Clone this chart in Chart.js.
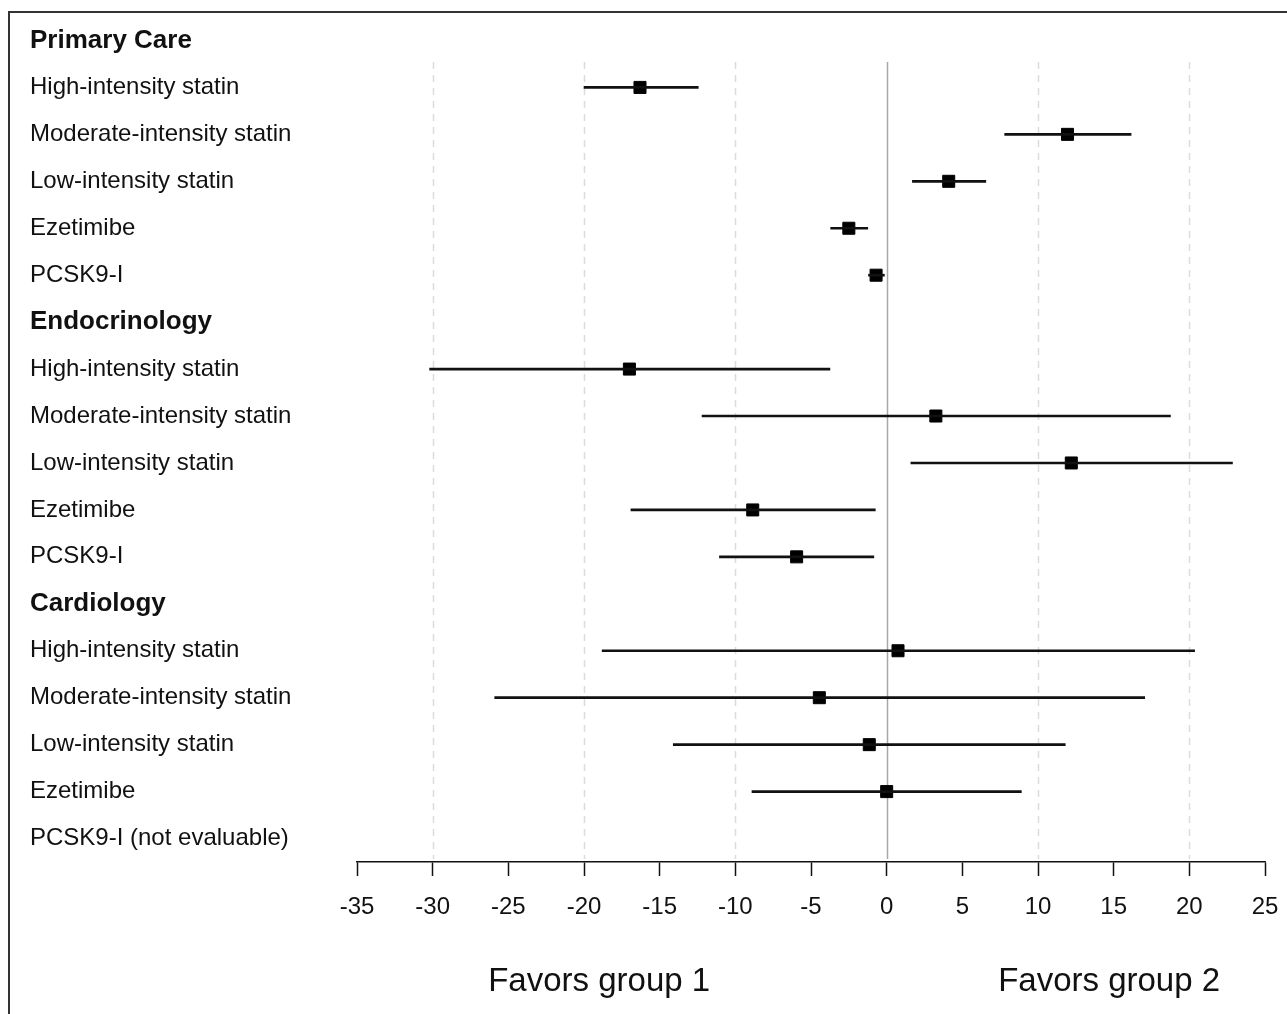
<!DOCTYPE html>
<html>
<head>
<meta charset="utf-8">
<script src="https://cdn.jsdelivr.net/npm/chart.js@4.4.1/dist/chart.umd.min.js"></script>
<style>
    html, body { margin: 0; padding: 0; background: #fff; overflow: hidden; }
    #wrap { position: absolute; left: 0; top: 0; width: 1287px; height: 1014px; }
    #frame { position: absolute; left: 8px; top: 11px; width: 1400px; height: 1100px;
             border: 2px solid #333; pointer-events: none; }
</style>
</head>
<body>
<div id="wrap"><canvas id="forestChart"></canvas></div>
<div id="frame"></div>
<script>
// Nhóm chuyên khoa và các loại thuốc
const groups = ['Primary Care', 'Endocrinology', 'Cardiology'];
const treatments = ['High-intensity statin', 'Moderate-intensity statin', 'Low-intensity statin', 'Ezetimibe', 'PCSK9-I'];

// Ước lượng điểm và khoảng tin cậy
const primaryEst = [-16.3, 11.95, 4.1, -2.5, -0.7];
const primaryLo  = [-20.0, 7.8, 1.7, -3.7, -1.2];
const primaryHi  = [-12.45, 16.15, 6.55, -1.25, -0.15];

const endoEst = [-17.0, 3.25, 12.2, -8.85, -5.95];
const endoLo  = [-30.2, -12.2, 1.6, -16.9, -11.05];
const endoHi  = [-3.75, 18.75, 22.85, -0.75, -0.85];

const cardioEst = [0.75, -4.45, -1.15, 0.0, null];
const cardioLo  = [-18.8, -25.9, -14.1, -8.9, null];
const cardioHi  = [20.35, 17.05, 11.8, 8.9, null];

// Trục x
const xTicks = [-35, -30, -25, -20, -15, -10, -5, 0, 5, 10, 15, 20, 25];
const dashedGrid = [-30, -20, -10, 10, 20];
const favorsLabels = ['Favors group 1', 'Favors group 2'];

// Gộp thành các hàng của biểu đồ
const rowLabels = [];
const headerRows = [];
const estData = [];
const ciData = [];
[[primaryEst, primaryLo, primaryHi], [endoEst, endoLo, endoHi], [cardioEst, cardioLo, cardioHi]]
    .forEach((g, gi) => {
        headerRows.push(rowLabels.length);
        rowLabels.push(groups[gi]);
        estData.push(null);
        ciData.push(null);
        treatments.forEach((t, i) => {
            const missing = g[0][i] === null;
            rowLabels.push(missing ? t + ' (not evaluable)' : t);
            estData.push(g[0][i]);
            ciData.push(missing ? null : [g[1][i], g[2][i]]);
        });
    });

const FONT = '"Liberation Sans", Arial, Helvetica, sans-serif';
Chart.defaults.font.family = FONT;
Chart.defaults.color = '#111';

// Vẽ lưới nét đứt, đường 0 và nhãn "Favors"
const forestDecor = {
    id: 'forestDecor',
    beforeDatasetsDraw(chart) {
        const { ctx, chartArea, scales: { x, y } } = chart;
        const top = (y.getPixelForValue(0) + y.getPixelForValue(1)) / 2 - 2;
        const bottom = chartArea.bottom - 3;
        ctx.save();
        ctx.lineWidth = 1.5;
        ctx.strokeStyle = '#dcdcdc';
        ctx.setLineDash([7, 6]);
        dashedGrid.forEach(v => {
            const px = Math.round(x.getPixelForValue(v)) + 0.5;
            ctx.beginPath();
            ctx.moveTo(px, top);
            ctx.lineTo(px, bottom);
            ctx.stroke();
        });
        ctx.setLineDash([]);
        ctx.strokeStyle = '#a8a8a8';
        const zx = Math.round(x.getPixelForValue(0)) + 0.5;
        ctx.beginPath();
        ctx.moveTo(zx, top);
        ctx.lineTo(zx, bottom);
        ctx.stroke();
        ctx.restore();
    },
    afterDraw(chart) {
        const { ctx, scales: { x } } = chart;
        ctx.save();
        ctx.font = '33px ' + FONT;
        ctx.fillStyle = '#111';
        ctx.textAlign = 'center';
        ctx.textBaseline = 'middle';
        ctx.fillText(favorsLabels[0], x.getPixelForValue(-19), 982);
        ctx.fillText(favorsLabels[1], x.getPixelForValue(14.7), 982);
        ctx.restore();
    }
};

new Chart(document.getElementById('forestChart'), {
    type: 'bar',
    data: {
        labels: rowLabels,
        datasets: [{
            type: 'bar',
            data: ciData,
            backgroundColor: '#111',
            borderWidth: 0,
            barThickness: 2
        }, {
            type: 'line',
            data: estData,
            showLine: false,
            pointStyle: 'rect',
            pointRadius: 8.5,
            pointBackgroundColor: '#000',
            pointBorderColor: '#000',
            pointBorderWidth: 1
        }]
    },
    options: {
        indexAxis: 'y',
        responsive: true,
        maintainAspectRatio: false,
        animation: false,
        layout: { padding: { top: 17, left: 30, right: 22, bottom: 92 } },
        plugins: {
            legend: { display: false },
            tooltip: { enabled: false }
        },
        scales: {
            y: {
                type: 'category',
                offset: true,
                grid: { display: false, drawTicks: false },
                border: { display: false },
                ticks: {
                    autoSkip: false,
                    crossAlign: 'far',
                    padding: 0,
                    color: '#111',
                    font: (c) => headerRows.includes(c.index)
                        ? { size: 26, weight: 'bold' }
                        : { size: 24 }
                },
                afterFit(scale) { scale.width = 327; }
            },
            x: {
                type: 'linear',
                min: -35,
                max: 25,
                afterBuildTicks(scale) { scale.ticks = xTicks.map(v => ({ value: v })); },
                grid: {
                    drawOnChartArea: false,
                    drawTicks: true,
                    tickLength: 14,
                    tickColor: '#111',
                    tickWidth: 1.5
                },
                border: { display: true, color: '#111', width: 1.5 },
                ticks: {
                    padding: 17,
                    color: '#111',
                    font: { size: 24 },
                    maxRotation: 0
                },
                afterFit(scale) {
                    scale.height = 60;
                    scale.paddingLeft = 0;
                    scale.paddingRight = 0;
                }
            }
        }
    },
    plugins: [forestDecor]
});
</script>
</body>
</html>
